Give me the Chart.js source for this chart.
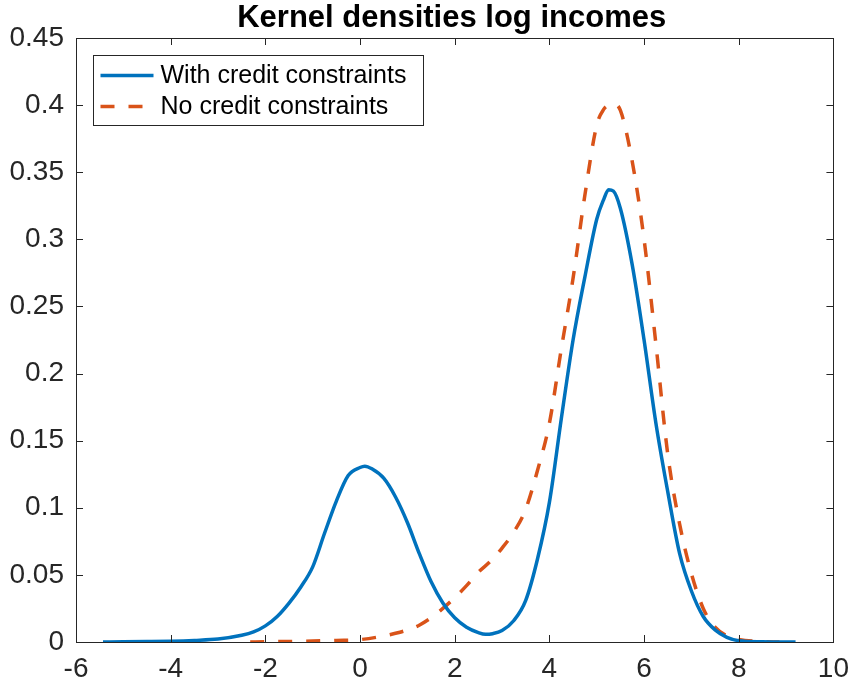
<!DOCTYPE html>
<html lang="en">
<head>
  <meta charset="UTF-8" />
  <title>Kernel densities log incomes</title>
  <script src="https://cdn.jsdelivr.net/npm/chart.js"></script>
  <style>
    body {
      margin: 0;
      background-color: #fff;
    }

    #wrap {
      width: 859px;
      height: 687px;
    }
  </style>
</head>
<body>
  <div id="wrap">
    <canvas id="graph" width="859" height="687"></canvas>
  </div>

  <script>
    const titleText = 'Kernel densities log incomes';
    const seriesNames = ['With credit constraints', 'No credit constraints'];
    const seriesColors = ['#0072BD', '#D95319'];

    // with credit constraints
    const blueX = [-5.43, -5, -4.5, -4, -3.5, -3, -2.5, -2.25, -2, -1.75, -1.5, -1.25, -1, -0.75, -0.5, -0.25,
      0, 0.1, 0.25, 0.5, 0.75, 1, 1.25, 1.5, 1.75, 2, 2.25, 2.5, 2.65, 2.8, 3, 3.25, 3.5, 3.75, 4, 4.25, 4.5,
      4.75, 5, 5.15, 5.25, 5.35, 5.5, 5.75, 6, 6.25, 6.5, 6.75, 7, 7.25, 7.5, 7.75, 8, 8.5, 9.2];
    const blueY = [0, 0.0001, 0.0003, 0.0006, 0.0012, 0.0022, 0.005, 0.0075, 0.012, 0.019, 0.029, 0.041, 0.056, 0.081, 0.105, 0.124,
      0.130, 0.131, 0.129, 0.122, 0.108, 0.089, 0.066, 0.045, 0.029, 0.018, 0.011, 0.007, 0.0057, 0.0062, 0.0085, 0.016, 0.031, 0.062, 0.104, 0.166, 0.225,
      0.272, 0.315, 0.330, 0.337, 0.336, 0.323, 0.281, 0.225, 0.163, 0.112, 0.066, 0.038, 0.019, 0.009, 0.0035, 0.001, 0.0002, 0];

    // no credit constraints
    const orangeX = [-2.32, -2, -1.5, -1, -0.5, 0, 0.5, 0.75, 1, 1.25, 1.5, 1.75, 2, 2.25, 2.5, 2.75, 3, 3.25, 3.5, 3.75,
      4, 4.25, 4.5, 4.75, 5, 5.15, 5.25, 5.35, 5.5, 5.75, 6, 6.25, 6.5, 6.75, 7, 7.25, 7.5, 7.75, 8, 8.5, 8.86];
    const orangeY = [0, 0.0002, 0.0004, 0.0007, 0.0012, 0.0018, 0.0045, 0.0065, 0.009, 0.0125, 0.018, 0.025, 0.033, 0.042, 0.052, 0.060, 0.070, 0.082, 0.099, 0.128,
      0.163, 0.218, 0.271, 0.333, 0.385, 0.397, 0.400, 0.401, 0.396, 0.358, 0.300, 0.222, 0.140, 0.088, 0.051, 0.025, 0.011, 0.0045, 0.0018, 0.0003, 0];

    const xTicks = [-6, -4, -2, 0, 2, 4, 6, 8, 10];
    const yTicks = [0, 0.05, 0.1, 0.15, 0.2, 0.25, 0.3, 0.35, 0.4, 0.45];

    const axisColor = '#262626';
    const fontFamily = '"Liberation Sans", Arial, Helvetica, sans-serif';
    const dashPattern = [14, 14];

    function toPoints(xs, ys) {
      return xs.map((x, i) => ({ x: x, y: ys[i] }));
    }

    // box around the axes with inward ticks on all four sides, title over the axes
    const axesBox = {
      id: 'axesBox',
      afterDatasetsDraw(chart) {
        const { ctx, chartArea: a, scales } = chart;
        const len = 7;
        ctx.save();
        ctx.strokeStyle = axisColor;
        ctx.lineWidth = 1;
        ctx.beginPath();
        xTicks.forEach(v => {
          const px = Math.round(scales.x.getPixelForValue(v)) + 0.5;
          ctx.moveTo(px, a.bottom); ctx.lineTo(px, a.bottom - len);
          ctx.moveTo(px, a.top); ctx.lineTo(px, a.top + len);
        });
        yTicks.forEach(v => {
          const py = Math.round(scales.y.getPixelForValue(v)) + 0.5;
          ctx.moveTo(a.left, py); ctx.lineTo(a.left + len, py);
          ctx.moveTo(a.right, py); ctx.lineTo(a.right - len, py);
        });
        ctx.stroke();
        ctx.strokeRect(Math.round(a.left) + 0.5, Math.round(a.top) + 0.5,
          Math.round(a.right - a.left), Math.round(a.bottom - a.top));

        ctx.fillStyle = '#000';
        ctx.font = 'bold 31px ' + fontFamily;
        ctx.textAlign = 'center';
        ctx.textBaseline = 'alphabetic';
        ctx.fillText(titleText, (a.left + a.right) / 2 - 3, 27);
        ctx.restore();
      }
    };

    // legend in the upper left corner of the plot
    const boxLegend = {
      id: 'boxLegend',
      afterDraw(chart) {
        const { ctx } = chart;
        const left = 93.5, top = 55.5, w = 330, h = 70;
        ctx.save();
        ctx.fillStyle = '#fff';
        ctx.fillRect(left, top, w, h);
        ctx.strokeStyle = axisColor;
        ctx.lineWidth = 1;
        ctx.strokeRect(left, top, w, h);
        chart.data.datasets.forEach((ds, i) => {
          const y = top + 20 + i * 31;
          ctx.beginPath();
          ctx.strokeStyle = ds.borderColor;
          ctx.lineWidth = ds.borderWidth;
          ctx.setLineDash(ds.borderDash || []);
          ctx.moveTo(left + 7, y);
          ctx.lineTo(left + 60, y);
          ctx.stroke();
          ctx.setLineDash([]);
          ctx.fillStyle = '#000';
          ctx.font = '25px ' + fontFamily;
          ctx.textBaseline = 'middle';
          ctx.fillText(ds.label, left + 67, y + 1);
        });
        ctx.restore();
      }
    };

    const ctx = document.getElementById('graph').getContext('2d');
    const chart = new Chart(ctx, {
      type: 'line',
      data: {
        datasets: [
          {
            label: seriesNames[0],
            data: toPoints(blueX, blueY),
            borderColor: seriesColors[0],
            backgroundColor: seriesColors[0],
            borderWidth: 3.5,
            pointRadius: 0,
            fill: false,
            cubicInterpolationMode: 'monotone'
          },
          {
            label: seriesNames[1],
            data: toPoints(orangeX, orangeY),
            borderColor: seriesColors[1],
            backgroundColor: seriesColors[1],
            borderWidth: 3.5,
            borderDash: dashPattern,
            pointRadius: 0,
            fill: false,
            cubicInterpolationMode: 'monotone'
          }
        ]
      },
      options: {
        responsive: false,
        animation: false,
        layout: { padding: { left: 0, right: 18, top: 38, bottom: 0 } },
        plugins: {
          legend: { display: false },
          tooltip: { enabled: false },
          title: { display: false }
        },
        scales: {
          x: {
            type: 'linear',
            min: -6,
            max: 10,
            afterFit(scale) { scale.height = 45; },
            afterBuildTicks(scale) { scale.ticks = xTicks.map(v => ({ value: v })); },
            ticks: {
              color: axisColor,
              font: { family: fontFamily, size: 28 },
              padding: 10,
              maxRotation: 0,
              autoSkip: false,
              callback: v => String(v)
            },
            grid: { display: false, drawTicks: false },
            border: { display: false }
          },
          y: {
            type: 'linear',
            min: 0,
            max: 0.45,
            afterFit(scale) { scale.width = 76; },
            afterBuildTicks(scale) { scale.ticks = yTicks.map(v => ({ value: v })); },
            ticks: {
              color: axisColor,
              font: { family: fontFamily, size: 28 },
              padding: 12,
              autoSkip: false,
              callback: v => String(+v.toFixed(2))
            },
            grid: { display: false, drawTicks: false },
            border: { display: false }
          }
        }
      },
      plugins: [axesBox, boxLegend]
    });
  </script>
</body>
</html>
